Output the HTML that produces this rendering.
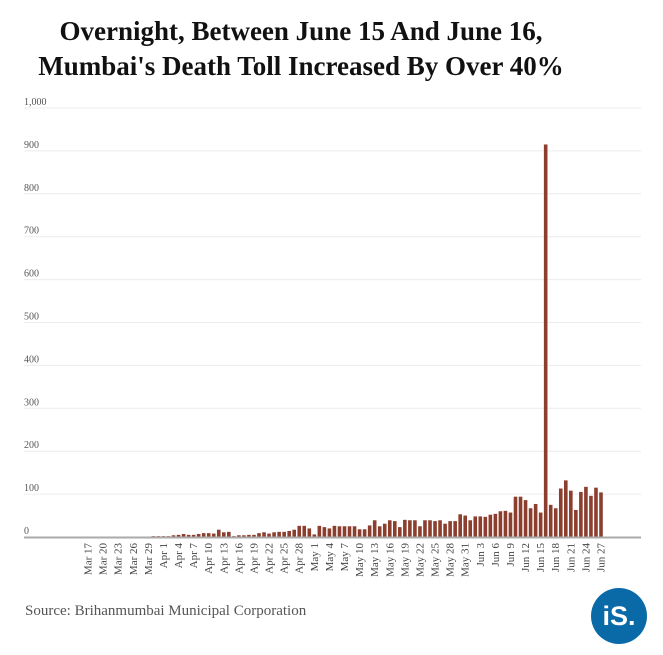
<!DOCTYPE html>
<html><head><meta charset="utf-8"><style>
body{margin:0;background:#fff;width:663px;height:655px;overflow:hidden;font-family:"Liberation Serif",serif}
#title{position:absolute;left:0;top:14px;width:602px;text-align:center;font-weight:bold;font-size:27px;line-height:35px;color:#111;white-space:nowrap}
#src{position:absolute;left:25px;top:603px;font-size:15px;color:#555}
#logo{position:absolute;left:591px;top:588px;width:56px;height:56px;border-radius:50%;background:#0a6aa8;color:#fff;font-family:"Liberation Sans",sans-serif;font-weight:bold;font-size:27px;line-height:56px;text-align:center}
svg{position:absolute;left:0;top:0}
</style></head><body>
<div id="title">Overnight, Between June 15 And June 16,<br>Mumbai's Death Toll Increased By Over 40%</div>
<svg id="chart" width="663" height="655"></svg>
<div id="src">Source: Brihanmumbai Municipal Corporation</div>
<div id="logo">iS.</div>
<script>
const startMonth=["Mar","Apr","May","Jun"];
const monthDays=[31,30,31,30];
const values=[0,0,0,0,0,0,0,0,0,0,0,0,0,
2,2,2,2,4,5,7,5,5,7,9,9,8,17,11,12,2,4,4,5,5,9,11,8,11,12,12,14,17,26,26,20,6,26,23,20,26,
25,25,25,25,18,18,27,39,25,31,39,37,23,40,39,39,25,39,39,37,39,31,37,37,53,50,39,48,48,47,52,54,60,61,57,94,94,86,67,77,57,915,75,67,113,132,108,63,105,117,96,115,104];
const yTicks=[0,100,200,300,400,500,600,700,800,900,1000];
const yTickLabels=["0","100","200","300","400","500","600","700","800","900","1,000"];
const categories=[];
(function(){let m=0,d=17;for(let i=0;i<values.length;i++){categories.push(startMonth[m]+" "+d);d++;if(d>monthDays[m]){d=1;m++;}}})();
const NS="http://www.w3.org/2000/svg";
const svg=document.getElementById('chart');
const x0=24,x1=641,y0=537,yTop=108;
const xPos=i=>88+i*(601-88)/(categories.length-1);
const yPos=v=>y0-(v/1000)*(y0-yTop);
function mk(t,a){const e=document.createElementNS(NS,t);for(const k in a)e.setAttribute(k,a[k]);svg.appendChild(e);return e;}
yTicks.forEach((v,i)=>{
  if(v>0){const g=mk('line',{x1:x0,x2:x1,y1:yPos(v),y2:yPos(v),stroke:'#ececec','stroke-width':1});
  
  }
  const t=mk('text',{x:x0,y:yPos(v)-3,'font-size':10,fill:'#555','font-family':'Liberation Serif, serif'});
  t.textContent=yTickLabels[i];
  
  
});
values.forEach((v,i)=>{
  if(v<=0)return;
  const b=mk('rect',{x:xPos(i)-1.8,y:yPos(v),width:3.6,height:y0-yPos(v),fill:'#8c3f2e'});
  
  
});
const ax=mk('line',{x1:x0,x2:x1,y1:y0+0.5,y2:y0+0.5,stroke:'#aaa','stroke-width':2});


categories.forEach((c,i)=>{
  if(i%3!==0)return;
  const x=xPos(i)+3.5,y=543;
  const t=mk('text',{x:x,y:y,'font-size':11,fill:'#444','text-anchor':'end',transform:`rotate(-90 ${x} ${y})`,'font-family':'Liberation Serif, serif'});
  t.textContent=c;
  
  
});
</script>
</body></html>
